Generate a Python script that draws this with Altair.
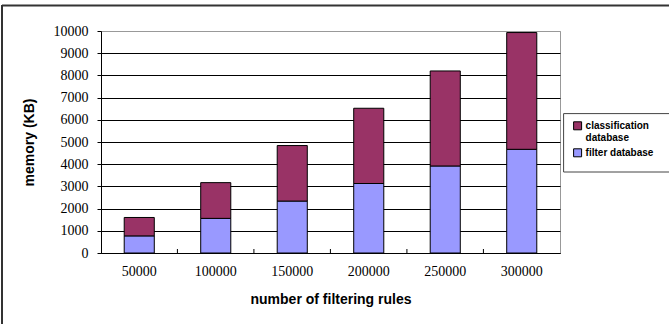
import altair as alt
import pandas as pd

# number of filtering rules on the x axis
rules = [50000, 100000, 150000, 200000, 250000, 300000]
# memory usage (KB) for each part of the structure
filter_db = [770, 1560, 2340, 3130, 3920, 4670]
classification_db = [830, 1610, 2500, 3390, 4280, 5260]

series_names = ["classification database", "filter database"]
series_colors = ["#993366", "#9999FF"]
y_ticks = list(range(0, 10001, 1000))

rows = []
for r, f, c in zip(rules, filter_db, classification_db):
    rows.append({"rules": r, "part": "filter database", "memory": f, "rank": 0})
    rows.append({"rules": r, "part": "classification database", "memory": c, "rank": 1})
df = pd.DataFrame(rows)
cats = pd.DataFrame({"rules": rules[1:]})

serif = "Liberation Serif"
sans = "Liberation Sans"

# square legend swatch, lowered so it sits beside the first label line
swatch = "M-1,0.2L1,0.2L1,2.2L-1,2.2Z"
x_scale = alt.Scale(domain=rules, paddingInner=0.607, paddingOuter=0.3035)

bars = alt.Chart(df).mark_bar(stroke="black", strokeWidth=1).encode(
    x=alt.X(
        "rules:O",
        sort=rules,
        scale=x_scale,
        axis=alt.Axis(
            title="number of filtering rules",
            labelAngle=0,
            labelFont=serif,
            labelFontSize=14,
            labelColor="black",
            labelPadding=11,
            tickSize=0,
            domainColor="black",
            titleFont=sans,
            titleFontSize=14,
            titleFontWeight="bold",
            titleColor="black",
            titlePadding=14,
        ),
    ),
    y=alt.Y(
        "memory:Q",
        stack="zero",
        scale=alt.Scale(domain=[0, 10000], nice=False),
        axis=alt.Axis(
            title="memory (KB)",
            values=y_ticks,
            format="d",
            labelFont=serif,
            labelFontSize=14,
            labelColor="black",
            labelPadding=9,
            tickSize=4,
            tickColor="black",
            domainColor="black",
            gridColor={"condition": {"test": "datum.value >= 10000", "value": "#999999"}, "value": "black"},
            gridWidth=1,
            titleFont=sans,
            titleFontSize=14,
            titleFontWeight="bold",
            titleColor="black",
            titleX=-72,
            titleY=111,
            titleAngle=270,
            titleBaseline="middle",
            titleAlign="center",
        ),
    ),
    color=alt.Color(
        "part:N",
        scale=alt.Scale(domain=series_names, range=series_colors),
        legend=alt.Legend(
            title=None,
            orient="none",
            legendX=462.6,
            legendY=76,
            padding=9,
            strokeColor="transparent",
            symbolType=swatch,
            symbolSize=64,
            symbolStrokeColor="black",
            symbolStrokeWidth=1,
            symbolOpacity=1,
            labelFont=sans,
            labelFontSize=10,
            labelFontWeight="bold",
            labelColor="black",
            labelOffset=3,
            labelBaseline="top",
            rowPadding=0,
            labelExpr="datum.label == 'classification database' ? ['classification', 'database'] : datum.label",
        ),
    ),
    order=alt.Order("rank:Q", sort="ascending"),
)

# small inside tick marks at the boundaries between categories
cat_ticks = alt.Chart(cats).mark_rule(color="black", strokeWidth=1).encode(
    x=alt.X("rules:O", scale=x_scale, bandPosition=0),
    xOffset=alt.value(-23.3),
    y=alt.value(218),
    y2=alt.value(222),
)

# legend frame
one = pd.DataFrame({"k": [0]})
legend_box = alt.Chart(one).mark_rect(fill="white", stroke="#444444", strokeWidth=1).encode(
    x=alt.value(462.6), x2=alt.value(575), y=alt.value(82.6), y2=alt.value(141)
)

# outer frame around the whole figure
frame_left = alt.Chart(one).mark_rule(color="#333333", strokeWidth=2).encode(
    x=alt.value(-99), y=alt.value(-26), y2=alt.value(300)
)
frame_top = alt.Chart(one).mark_rule(color="#333333", strokeWidth=2).encode(
    x=alt.value(-99), x2=alt.value(575), y=alt.value(-25.5)
)

chart = (
    alt.layer(legend_box, bars, cat_ticks, frame_left, frame_top)
    .properties(
        width=459,
        height=222,
        padding={"left": 101, "top": 31, "right": 109, "bottom": 71},
        autosize=alt.AutoSizeParams(type="none"),
        background="white",
    )
    .configure_view(stroke="#999999", strokeWidth=1)
)

chart.save("out.html", embed_options={"renderer": "svg", "actions": False})
